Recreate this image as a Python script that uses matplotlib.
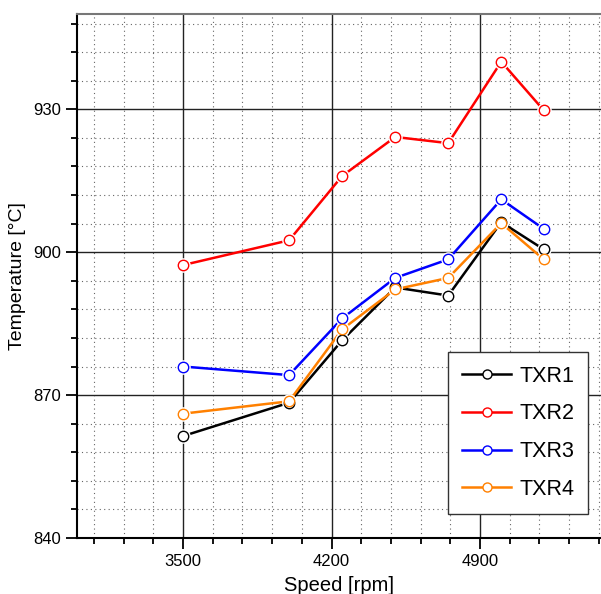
import numpy as np
import matplotlib
matplotlib.use("Agg")
import matplotlib.pyplot as plt
from matplotlib.ticker import MultipleLocator

# speed points (rpm) and measured temperatures (deg C)
speed = [3500, 4000, 4250, 4500, 4750, 5000, 5200]
txr1 = [861.4, 868.4, 881.5, 892.6, 890.9, 906.3, 900.6]
txr2 = [897.3, 902.5, 916.0, 924.2, 922.9, 940.0, 929.8]
txr3 = [876.0, 874.2, 886.1, 894.6, 898.5, 911.1, 904.9]
txr4 = [866.1, 868.7, 883.8, 892.2, 894.6, 906.1, 898.5]

series = [("TXR1", txr1, "black"),
          ("TXR2", txr2, "#ff0000"),
          ("TXR3", txr3, "#0000ff"),
          ("TXR4", txr4, "#ff8000")]

plt.rcParams['font.family'] = ['Liberation Sans', 'DejaVu Sans']

fig = plt.figure(figsize=(6.01, 5.94), dpi=100)
ax = fig.add_axes([0.128, 0.0943, 0.872, 0.882])

for name, vals, col in series:
    ax.plot(speed, vals, color=col, lw=1.8, zorder=3)
    # white halo so lines stop short of the circles
    ax.plot(speed, vals, ls='none', marker='o', ms=10.5, mfc='white',
            mec='none', zorder=4)
    ax.plot(speed, vals, ls='none', marker='o', ms=7.5, mfc='white',
            mec=col, mew=1.0, zorder=5)

# legend handles drawn separately
handles = []
for name, vals, col in series:
    h, = ax.plot([], [], color=col, lw=1.8, marker='o', ms=6.5,
                 mfc='white', mec=col, mew=1.0, label=name)
    handles.append(h)

ax.set_xlim(3000, 5470)
ax.set_ylim(840, 950)
ax.xaxis.set_major_locator(MultipleLocator(700))
ax.xaxis.set_minor_locator(MultipleLocator(140))
ax.yaxis.set_major_locator(MultipleLocator(30))
ax.yaxis.set_minor_locator(MultipleLocator(6))

ax.grid(which='major', color='#222222', lw=1.0, ls='-', zorder=1)
ax.grid(which='minor', color='#666666', lw=0.8, ls=(0, (1, 3)), zorder=1)
ax.set_axisbelow(True)

ax.tick_params(which='major', direction='out', length=8, width=1.3,
               labelsize=12)
ax.tick_params(which='minor', direction='out', length=4, width=1.3)
ax.spines['right'].set_visible(False)
ax.spines['left'].set_linewidth(1.5)
ax.spines['bottom'].set_linewidth(1.5)
ax.spines['top'].set_color('#777777')
ax.spines['top'].set_linewidth(1.5)

ax.set_xlabel("Speed [rpm]", fontsize=14.5, labelpad=5)
ax.set_ylabel("Temperature [°C]", fontsize=14, labelpad=5)

leg = ax.legend(handles=handles, loc='lower right',
                bbox_to_anchor=(588 / 601, 1 - 514 / 594),
                bbox_transform=fig.transFigure, fancybox=False,
                framealpha=1, edgecolor='#333333', handlelength=2.3,
                numpoints=1, borderpad=0.65, labelspacing=0.78,
                handletextpad=0.35, borderaxespad=0,
                prop={'size': 15.5})
leg.get_frame().set_linewidth(1.0)
leg.set_zorder(10)

fig.savefig("out.png", dpi=100)
